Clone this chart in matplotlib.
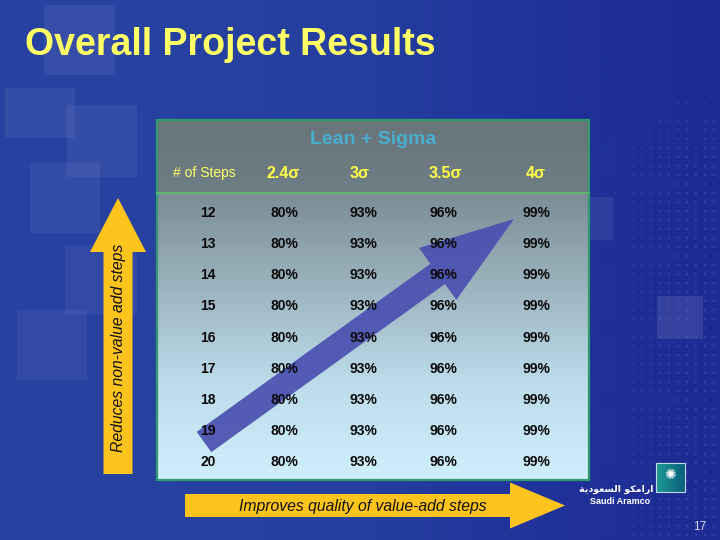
import numpy as np
import matplotlib
matplotlib.use("Agg")
import matplotlib.pyplot as plt
from matplotlib.patches import Rectangle, FancyArrow
from matplotlib.colors import LinearSegmentedColormap

# ---------------- data ----------------
title = "Overall Project Results"
table_title = "Lean + Sigma"
header_first = "# of Steps"
sigma_levels = ["2.4σ", "3σ", "3.5σ", "4σ"]
steps = [12, 13, 14, 15, 16, 17, 18, 19, 20]
yield_24 = [80, 80, 80, 80, 80, 80, 80, 80, 80]
yield_3 = [93, 93, 93, 93, 93, 93, 93, 93, 93]
yield_35 = [96, 96, 96, 96, 96, 96, 96, 96, 96]
yield_4 = [99, 99, 99, 99, 99, 99, 99, 99, 99]
left_label = "Reduces non-value add steps"
bottom_label = "Improves quality of value-add steps"
page_number = "17"

# ---------------- figure ----------------
W, H = 720, 540
fig = plt.figure(figsize=(7.2, 5.4), dpi=100)
ax = fig.add_axes([0, 0, 1, 1])
ax.set_xlim(0, W)
ax.set_ylim(H, 0)
ax.axis("off")

# background: blue gradient
bg_cmap = LinearSegmentedColormap.from_list(
    "bg", ["#2841a2", "#2741a1", "#253e9f", "#20339a", "#1d2b92"])
grad = np.tile(np.linspace(0, 1, 256), (2, 1))
ax.imshow(grad, cmap=bg_cmap, extent=[0, W, H, 0], aspect="auto", zorder=0)

# subtle translucent squares (decoration)
for (x0, y0, w, h, a) in [(44, 5, 71, 70, 0.07), (5, 88, 70, 50, 0.06),
                          (67, 105, 70, 72, 0.06), (30, 163, 70, 70, 0.06),
                          (65, 245, 72, 70, 0.05), (17, 310, 70, 70, 0.05),
                          (590, 197, 23, 43, 0.07), (657, 296, 46, 43, 0.10)]:
    ax.add_patch(Rectangle((x0, y0), w, h, facecolor="white", alpha=a,
                           edgecolor="none", zorder=1))
# dotted texture on right side, fading in from the left
gx, gy = np.meshgrid(np.arange(570, 720, 9), np.arange(40, 540, 9))
gx, gy = gx.ravel(), gy.ravel()
fade = np.clip((gx - 570) / 110, 0, 1) * np.clip((gy - 40) / 120, 0, 1)
rgba = np.zeros((gx.size, 4))
rgba[:, :3] = (0.36, 0.45, 0.86)
rgba[:, 3] = 0.32 * fade
ax.scatter(gx, gy, s=3, c=rgba, linewidths=0, zorder=1)

# title
ax.text(25, 45, title, color="#ffff66", fontsize=27, fontweight="bold",
        family="Liberation Sans", ha="left", va="center", zorder=5)

# ---------------- table ----------------
tx0, tx1 = 157, 589
ty0, ty_line, ty1 = 120, 193, 480

head_cmap = LinearSegmentedColormap.from_list("head", ["#687579", "#6f7e85"])
ax.imshow(np.linspace(0, 1, 64).reshape(-1, 1), cmap=head_cmap,
          extent=[tx0, tx1, ty_line, ty0], aspect="auto", zorder=2)
body_cmap = LinearSegmentedColormap.from_list(
    "body", ["#7b8d96", "#9db5c0", "#bcdcea", "#d0effc"])
ax.imshow(np.linspace(0, 1, 128).reshape(-1, 1), cmap=body_cmap,
          extent=[tx0, tx1, ty1, ty_line], aspect="auto", zorder=2)
ax.add_patch(Rectangle((tx0, ty0), tx1 - tx0, ty1 - ty0, facecolor="none",
                       edgecolor="#2f9a6e", linewidth=1.6, zorder=3))
ax.plot([tx0, tx1], [ty_line, ty_line], color="#5cbf6a", linewidth=1.2,
        zorder=3)

ax.text((tx0 + tx1) / 2, 139, table_title, color="#4aaed0", fontsize=14,
        fontweight="bold", family="Liberation Sans", ha="center",
        va="center", zorder=5)

col_x = [208, 284, 363, 443, 536]
head_x = [204, 283, 360, 445, 536]
head_y = 173
ax.text(head_x[0], head_y, header_first, color="#ffff66", fontsize=10,
        family="Liberation Sans", ha="center", va="center", zorder=5)
for x, s in zip(head_x[1:], sigma_levels):
    ax.text(x, head_y, s, color="#ffff44", fontsize=11.5, fontweight="bold",
            family=["Liberation Sans", "DejaVu Sans"], ha="center",
            va="center", zorder=5)

row_y = np.linspace(213, 462, len(steps))
cols = [steps, yield_24, yield_3, yield_35, yield_4]
for j, col in enumerate(cols):
    for i, v in enumerate(col):
        label = str(v) if j == 0 else f"{v}%"
        ax.text(col_x[j], row_y[i], label, color="#0a0a0a", fontsize=10,
                fontweight="bold", family="Liberation Sans", ha="center",
                va="center", zorder=5)

# diagonal blue arrow (overlay)
sx, sy, ex, ey = 204, 442, 514, 219
ax.add_patch(FancyArrow(sx, sy, ex - sx, ey - sy, width=25, head_width=64,
                        head_length=94, length_includes_head=True,
                        facecolor="#4a50b0", edgecolor="none", alpha=0.92,
                        zorder=4))

# ---------------- yellow arrows ----------------
ax.add_patch(FancyArrow(118, 474, 0, 198 - 474, width=29, head_width=56,
                        head_length=54, length_includes_head=True,
                        facecolor="#fdc41d", edgecolor="none", zorder=4))
ax.text(118, 348, left_label, rotation=90, color="#111111", fontsize=11.3,
        style="italic", family="Liberation Sans", ha="center", va="center",
        zorder=5)

ax.add_patch(FancyArrow(185, 505.5, 565 - 185, 0, width=23, head_width=46,
                        head_length=55, length_includes_head=True,
                        facecolor="#fdc41d", edgecolor="none", zorder=4))
ax.text(363, 506, bottom_label, color="#111111", fontsize=11.3,
        style="italic", family="Liberation Sans", ha="center", va="center",
        zorder=5)

# ---------------- logo / page number ----------------
logo_cmap = LinearSegmentedColormap.from_list("logo", ["#1c9a92", "#0c5f7c"])
ax.imshow(np.linspace(0, 1, 64).reshape(1, -1), cmap=logo_cmap,
          extent=[656, 685, 492, 463], aspect="auto", zorder=3)
ax.add_patch(Rectangle((656, 463), 29, 29, facecolor="none",
                       edgecolor="#c8d8e8", linewidth=0.8, zorder=4))
ax.text(670, 475, "✺", color="white", fontsize=10, ha="center", va="center",
        family="DejaVu Sans", zorder=5)
ax.text(616, 489, "ﺔﻳﺩﻮﻌﺴﻟﺍ ﻮﻜﻣﺍﺭﺍ", color="white", fontsize=6.8,
        fontweight="bold", family="DejaVu Sans", ha="center", va="center",
        zorder=5)
ax.text(620, 501, "Saudi Aramco", color="white", fontsize=6.5,
        fontweight="bold", family="Liberation Sans", ha="center",
        va="center", zorder=5)
ax.text(700, 527, page_number, color="#d8dcf0", fontsize=8.5,
        family="Liberation Sans", ha="center", va="center", zorder=5)

fig.savefig("out.png", dpi=100)
